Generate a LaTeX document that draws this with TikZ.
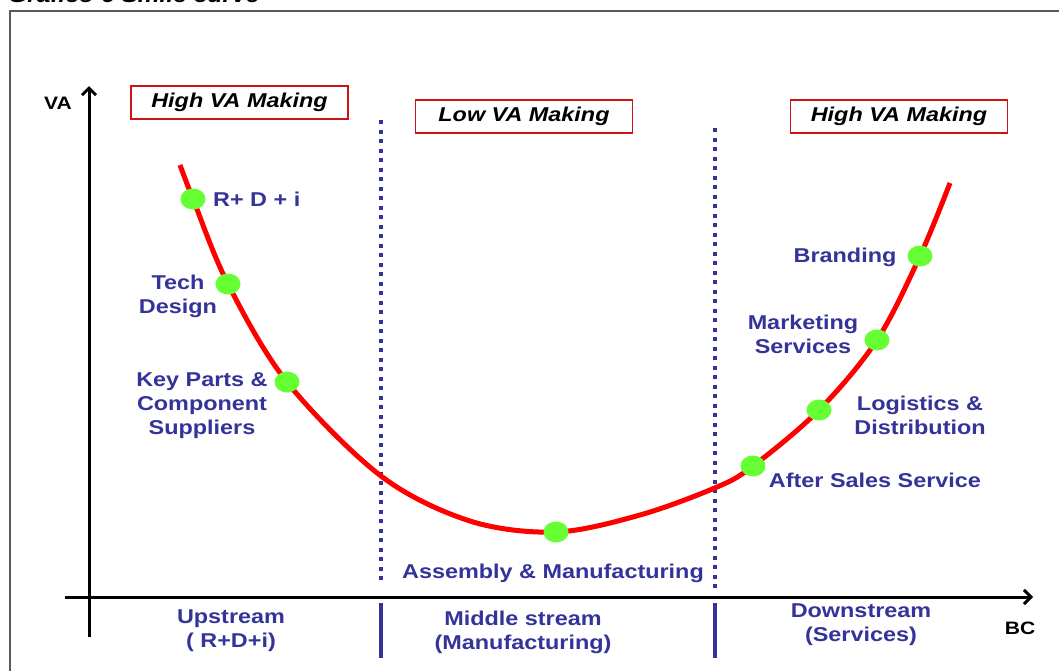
\documentclass[tikz,border=0pt]{standalone}
\usepackage{fontspec}
\setmainfont{Liberation Sans}[FakeStretch=1.17]
\usepackage{xcolor}
\usepackage{tikz}
\usetikzlibrary{arrows.meta,shapes.geometric}

\definecolor{vablue}{RGB}{51,51,153}
\definecolor{boxred}{RGB}{204,20,20}
\definecolor{dotgreen}{RGB}{102,255,51}
\definecolor{framegray}{RGB}{90,90,90}

\tikzset{
  lbl/.style={font=\bfseries\fontsize{20}{24}\selectfont, text=vablue, align=center, inner sep=0pt},
  axislbl/.style={font=\bfseries\fontsize{18}{22}\selectfont, text=black, inner sep=0pt},
  vabox/.style={draw=boxred, line width=1.5pt, minimum width=217pt, minimum height=33pt,
    font=\bfseries\itshape\fontsize{20}{24}\selectfont, inner sep=0pt},
  stage/.style={ellipse, fill=dotgreen, minimum width=25pt, minimum height=21pt, inner sep=0pt},
  axis/.style={line width=3pt, -{Straight Barb[length=7pt,width=14pt]}},
  sep/.style={vablue, line width=4pt, dash pattern=on 4pt off 5.5pt},
  bar/.style={vablue, line width=3.5pt}
}

\begin{document}
\begin{tikzpicture}[x=1pt,y=-1pt]
\useasboundingbox (0,0) rectangle (1059,670);
\node[anchor=base west, font=\bfseries\itshape\fontsize{21}{24}\selectfont, inner sep=0pt] (title) at (8,2) {Grafico 6 Smile curve};
\draw[framegray, line width=1.5pt] (1070,11) -- (10,11) -- (10,690);

% axes
\coordinate (o) at (89,597);
\coordinate (ybot) at (89,637);
\coordinate (ytop) at (89,86);
\coordinate (xleft) at (65,597);
\coordinate (xright) at (1033,597);
\draw[axis] (ybot) -- (ytop);
\draw[axis] (xleft) -- (xright);
\node[axislbl] (va) at (58,103) {VA};
\node[axislbl] (bc) at (1020,628) {BC};

% boxes on top
\node[vabox] (high1) at (239.5,102.5) {High VA Making};
\node[vabox] (low) at (524,116.5) {Low VA Making};
\node[vabox] (high2) at (899,116.5) {High VA Making};

% stage borders
\draw[sep] (381,120) -- (381,582);
\draw[sep] (715,128) -- (715,588);
\draw[bar] (381,603) -- (381,658);
\draw[bar] (715,603) -- (715,658);

% smile curve
\draw[red, line width=5pt] plot[smooth, tension=0.55] coordinates {
  (180,165) (193,199) (228,284) (287,382) (381,476) (470,521) (556,532)
  (640,515) (717,487) (753,466) (819,410) (877,340) (920,256) (950,183)};

\node[stage] (rdi) at (193,199) {};
\node[stage] (tech) at (228,284) {};
\node[stage] (parts) at (287,382) {};
\node[stage] (assembly) at (556,532) {};
\node[stage] (aftersales) at (753,466) {};
\node[stage] (logistics) at (819,410) {};
\node[stage] (marketing) at (877,340) {};
\node[stage] (branding) at (920,256) {};

\node[lbl, anchor=west] (rdilbl) at (213,199) {R+ D + i};
\node[lbl] (techlbl) at (178,296) {Tech\\Design};
\node[lbl] (partslbl) at (202,406) {Key Parts \&\\Component\\Suppliers};
\node[lbl] (assemblylbl) at (553,573) {Assembly \& Manufacturing};
\node[lbl] (aftersaleslbl) at (875,480) {After Sales Service};
\node[lbl] (logisticslbl) at (920,415) {Logistics \&\\Distribution};
\node[lbl] (marketinglbl) at (803,334) {Marketing\\Services};
\node[lbl] (brandinglbl) at (845,257) {Branding};

% streams under the axis
\node[lbl] (up) at (231,631) {Upstream\\( R+D+i)};
\node[lbl] (mid) at (523,632) {Middle stream\\(Manufacturing)};
\node[lbl] (down) at (861,625) {Downstream\\(Services)};
\end{tikzpicture}
\end{document}
